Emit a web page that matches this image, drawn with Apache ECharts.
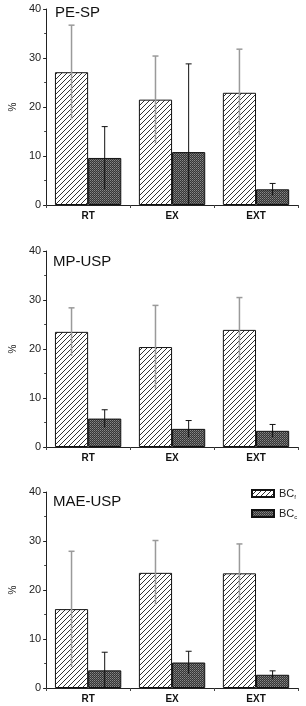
<!DOCTYPE html>
<html>
<head>
<meta charset="utf-8">
<script src="https://cdn.jsdelivr.net/npm/echarts@6/dist/echarts.min.js"></script>
<style>
html,body{margin:0;padding:0;background:#fff;}
#c{width:306px;height:706px;}
</style>
</head>
<body>
<div id="c"></div>
<script>
// ---- data ----
var categories = ['RT', 'EX', 'EXT'];
var panelTitles = ['PE-SP', 'MP-USP', 'MAE-USP'];
var yTicks = [0, 10, 20, 30, 40];

var peBCf = [27.1, 21.5, 22.9];
var peBCfErr = [9.6, 8.9, 8.9];
var peBCc = [9.6, 10.8, 3.2];
var peBCcErr = [6.4, 18.0, 1.2];

var mpBCf = [23.5, 20.4, 23.9];
var mpBCfErr = [4.9, 8.5, 6.6];
var mpBCc = [5.8, 3.7, 3.3];
var mpBCcErr = [1.8, 1.7, 1.3];

var maeBCf = [16.1, 23.5, 23.4];
var maeBCfErr = [11.8, 6.6, 6.0];
var maeBCc = [3.6, 5.2, 2.7];
var maeBCcErr = [3.7, 2.3, 0.8];

var panels = [
  {f: peBCf, fe: peBCfErr, c: peBCc, ce: peBCcErr},
  {f: mpBCf, fe: mpBCfErr, c: mpBCc, ce: mpBCcErr},
  {f: maeBCf, fe: maeBCfErr, c: maeBCc, ce: maeBCcErr}
];

// ---- patterns ----
function hatchPattern() {
  var s = 5, cv = document.createElement('canvas');
  cv.width = s; cv.height = s;
  var ctx = cv.getContext('2d');
  ctx.fillStyle = '#fff'; ctx.fillRect(0, 0, s, s);
  ctx.strokeStyle = '#333'; ctx.lineWidth = 1;
  ctx.beginPath();
  ctx.moveTo(-1, s + 1); ctx.lineTo(s + 1, -1);
  ctx.moveTo(-1, 1); ctx.lineTo(1, -1);
  ctx.moveTo(s - 1, s + 1); ctx.lineTo(s + 1, s - 1);
  ctx.stroke();
  return cv;
}
function checkPattern() {
  var s = 2, cv = document.createElement('canvas');
  cv.width = s; cv.height = s;
  var ctx = cv.getContext('2d');
  ctx.fillStyle = '#353535'; ctx.fillRect(0, 0, s, s);
  ctx.fillStyle = '#888888'; ctx.fillRect(0, 0, 1, 1);
  ctx.fillStyle = '#666666'; ctx.fillRect(1, 1, 1, 1);
  return cv;
}
var hatch = {image: hatchPattern(), repeat: 'repeat'};
var check = {image: checkPattern(), repeat: 'repeat'};

var FONT = 'Liberation Sans, Arial, sans-serif';
var CAT_GAP = 0.21;
var gridTops = [9, 251, 492];
var gridH = 196;

function errRender(sign, color, lw) {
  return function (params, api) {
    var idx = api.value(0), v = api.value(1), e = api.value(2);
    var band = api.size([1, 0])[0];
    var barW = band * (1 - CAT_GAP) / 2;
    var c = api.coord([idx, v]);
    var x = c[0] + sign * barW / 2;
    var top = api.coord([idx, v + e])[1];
    var bot = api.coord([idx, Math.max(0, v - e)])[1];
    return {
      type: 'group',
      children: [
        {type: 'line', shape: {x1: x, y1: bot, x2: x, y2: top}, style: {stroke: color, lineWidth: lw}},
        {type: 'line', shape: {x1: x - 3, y1: top, x2: x + 3, y2: top}, style: {stroke: color, lineWidth: lw}}
      ]
    };
  };
}

var grids = [], xAxes = [], yAxes = [], series = [], titles = [];
var titleLeft = [55, 53, 53];
var titleTop = [5, 254, 494];
panels.forEach(function (p, i) {
  grids.push({left: 40, width: 258, top: gridTops[i], height: gridH});
  titles.push({text: panelTitles[i], left: titleLeft[i], top: titleTop[i], padding: 0,
    textStyle: {fontFamily: FONT, fontSize: 15, fontWeight: 'normal', color: '#111'}});
  xAxes.push({
    type: 'category', gridIndex: i, data: categories,
    axisLine: {lineStyle: {color: '#222', width: 1}},
    axisTick: {show: true, length: 3, lineStyle: {color: '#444'}},
    axisLabel: {fontFamily: FONT, fontSize: 10, fontWeight: 'bold', color: '#111', margin: 6}
  });
  yAxes.push({
    type: 'value', gridIndex: i, min: yTicks[0], max: yTicks[yTicks.length - 1], interval: 10,
    name: '%', nameLocation: 'middle', nameGap: 28, nameRotate: 90,
    nameTextStyle: {fontFamily: FONT, fontSize: 10, color: '#222'},
    axisLine: {show: true, lineStyle: {color: '#222', width: 1}},
    axisTick: {show: true, length: 3, lineStyle: {color: '#222'}},
    minorTick: {show: true, splitNumber: 2, length: 2, lineStyle: {color: '#444'}},
    splitLine: {show: false},
    axisLabel: {fontFamily: FONT, fontSize: 11, color: '#222', margin: 5}
  });
  series.push({
    type: 'bar', name: 'BCf', xAxisIndex: i, yAxisIndex: i, data: p.f,
    barGap: '0%', barCategoryGap: (CAT_GAP * 100) + '%',
    itemStyle: {color: hatch, borderColor: '#111', borderWidth: 1}
  });
  series.push({
    type: 'bar', name: 'BCc', xAxisIndex: i, yAxisIndex: i, data: p.c,
    barGap: '0%', barCategoryGap: (CAT_GAP * 100) + '%',
    itemStyle: {color: check, borderColor: '#111', borderWidth: 1}
  });
  series.push({
    type: 'custom', xAxisIndex: i, yAxisIndex: i, z: 5,
    renderItem: errRender(-1, '#9a9a9a', 1.5),
    data: categories.map(function (c, k) { return [k, p.f[k], p.fe[k]]; })
  });
  series.push({
    type: 'custom', xAxisIndex: i, yAxisIndex: i, z: 5,
    renderItem: errRender(1, '#111', 1),
    data: categories.map(function (c, k) { return [k, p.c[k], p.ce[k]]; })
  });
});

var chart = echarts.init(document.getElementById('c'), null, {renderer: 'canvas'});
chart.setOption({
  animation: false,
  backgroundColor: '#fff',
  title: titles,
  grid: grids,
  xAxis: xAxes,
  yAxis: yAxes,
  legend: {
    data: ['BCf', 'BCc'], orient: 'vertical', left: 251, top: 488,
    icon: 'rect',
    itemWidth: 22, itemHeight: 7, itemGap: 8, padding: 0,
    formatter: function (n) { return '{m|BC}{s|' + n.slice(2) + '}'; },
    textStyle: {
      fontFamily: FONT, color: '#222',
      rich: {
        m: {fontSize: 11, fontFamily: FONT, color: '#222'},
        s: {fontSize: 6, fontFamily: FONT, color: '#222', padding: [7, 0, 0, 0]}
      }
    }
  },
  series: series
});
</script>
</body>
</html>
